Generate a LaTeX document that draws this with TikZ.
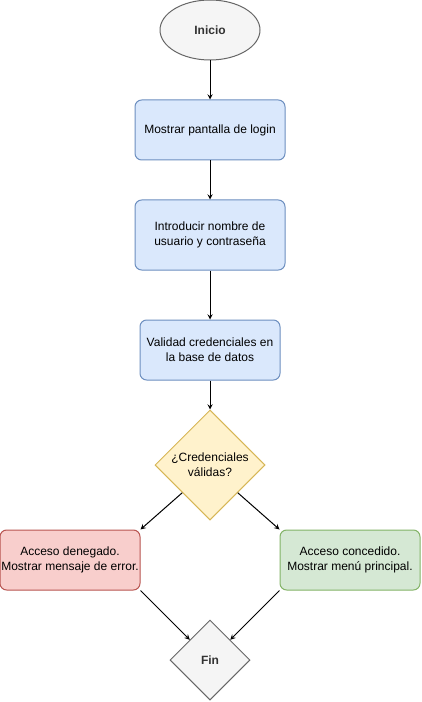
\documentclass[tikz,border=0pt]{standalone}
\usepackage{fontspec}
\setmainfont{Liberation Sans}
\usetikzlibrary{positioning, arrows, shapes.geometric}
\definecolor{grayfill}{HTML}{F5F5F5}
\definecolor{graydraw}{HTML}{666666}
\definecolor{graytext}{HTML}{333333}
\definecolor{bluefill}{HTML}{DAE8FC}
\definecolor{bluedraw}{HTML}{6C8EBF}
\definecolor{yellowfill}{HTML}{FFF2CC}
\definecolor{yellowdraw}{HTML}{D6B656}
\definecolor{redfill}{HTML}{F8CECC}
\definecolor{reddraw}{HTML}{B85450}
\definecolor{greenfill}{HTML}{D5E8D4}
\definecolor{greendraw}{HTML}{82B366}
\begin{document}
\begin{tikzpicture}[on grid, line width=0.75pt, font=\fontsize{9}{11}\selectfont,
    process/.style={rectangle, rounded corners=5pt, draw=bluedraw, fill=bluefill, align=center, minimum width=112.5pt, minimum height=45pt, inner sep=0pt},
    decision/.style={diamond, aspect=1, draw=yellowdraw, fill=yellowfill, align=center, minimum size=82.5pt, inner sep=0pt},
    result/.style={rectangle, rounded corners=5pt, align=center, minimum width=105pt, minimum height=45pt, inner sep=0pt},
    terminal/.style={draw=graydraw, fill=grayfill, text=graytext, font=\fontsize{9}{11}\selectfont\bfseries, inner sep=0pt},
    flow/.style={-stealth, black}]
      \useasboundingbox (0,0) rectangle (315.75pt,-526.5pt);
      \node[terminal, ellipse, minimum width=75pt, minimum height=45pt] (ini) at (157.5pt,-22.5pt) {Inicio};
      \node[process, below=75pt of ini] (login) {Mostrar pantalla de login};
      \node[process, below=78.75pt of login, minimum height=52.5pt] (intro) {Introducir nombre de\\usuario y contraseña};
      \node[process, below=86.25pt of intro, minimum width=105pt] (valid) {Validad credenciales en\\la base de datos};
      \node[decision, below=86.25pt of valid] (check) {¿Credenciales\\válidas?};
      \node[result, draw=reddraw, fill=redfill, below left=71.25pt and 105pt of check] (deny) {Acceso denegado.\\Mostrar mensaje de error.};
      \node[result, draw=greendraw, fill=greenfill, below right=71.25pt and 105pt of check] (grant) {Acceso concedido.\\Mostrar menú principal.};
      \node[terminal, diamond, aspect=1, minimum size=60pt, below=146.25pt of check] (fin) {Fin};

      \draw[flow] (ini) -- (login);
      \draw[flow] (login) -- (intro);
      \draw[flow] (intro) -- (valid);
      \draw[flow] (valid) -- (check);
      \draw[flow] (check.south west) -- (deny.north east);
      \draw[flow] (check.south east) -- (grant.north west);
      \draw[flow] (deny.south east) -- (fin.north west);
      \draw[flow] (grant.south west) -- (fin.north east);
    \end{tikzpicture}
\end{document}
